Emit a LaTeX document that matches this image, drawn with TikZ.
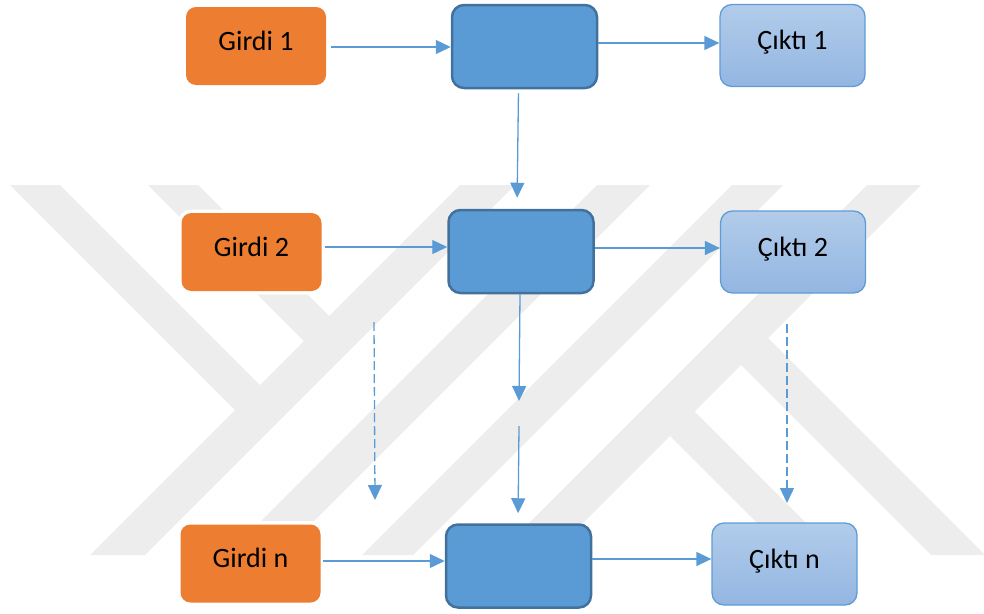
\documentclass[tikz,border=0pt]{standalone}
\usepackage{fontspec}
\setmainfont{Carlito}
\usetikzlibrary{arrows.meta}

\definecolor{inorange}{HTML}{ED7D31}
\definecolor{procblue}{HTML}{5B9BD5}
\definecolor{procedge}{HTML}{41719C}
\definecolor{outtop}{HTML}{B2CCEA}
\definecolor{outbot}{HTML}{93B6E2}
\definecolor{outedge}{HTML}{5F9CD6}
\definecolor{linkblue}{HTML}{5B9BD5}
\definecolor{wmgray}{RGB}{237,237,237}

\tikzset{
  boxtext/.style={font=\fontsize{28}{32}\selectfont, text height=20pt, text depth=12pt, inner sep=0pt},
  inbox/.style={boxtext, rectangle, rounded corners=10pt, fill=inorange,
    preaction={draw=white, line width=7pt},
    minimum width=140pt, minimum height=78pt},
  procbox/.style={rectangle, rounded corners=12pt, fill=procblue, draw=procedge,
    line width=2.5pt, minimum width=145pt, minimum height=83pt, inner sep=0pt},
  outbox/.style={boxtext, rectangle, rounded corners=12pt, top color=outtop,
    bottom color=outbot, draw=outedge, line width=1.3pt,
    minimum width=145pt, minimum height=82pt},
  arr/.style={draw=linkblue, line width=1.3pt,
    -{Triangle[length=15pt, width=14pt]}},
  darr/.style={arr, dash pattern=on 9pt off 4pt},
}

\begin{document}
\begin{tikzpicture}[x=1pt, y=-1pt]
\useasboundingbox (0,0) rectangle (984,613);

% background emblem: light diagonal bands
\fill[wmgray] (10,185) -- (60,185) -- (260,385) -- (235,410) -- cycle;
\fill[wmgray] (148,185) -- (198,185) -- (329,316) -- (304,341) -- cycle;
\fill[wmgray] (460,185) -- (515,185) -- (145,555) -- (90,555) -- cycle;
\fill[wmgray] (597,185) -- (650,185) -- (280,555) -- (227,555) -- cycle;
\fill[wmgray] (732,185) -- (783,185) -- (413,555) -- (362,555) -- cycle;
\fill[wmgray] (867,185) -- (921,185) -- (551,555) -- (497,555) -- cycle;
\fill[wmgray] (768,338) -- (741,365) -- (931,555) -- (984,555) -- (984,554) -- cycle;
\fill[wmgray] (694.5,411.5) -- (670,436) -- (789,555) -- (838,555) -- cycle;

% row 1
\node[inbox]   (g1) at (256,46)    {Girdi 1};
\node[procbox] (b1) at (524.5,46.5) {};
\node[outbox]  (c1) at (792.5,45.5) {Çıktı 1};

% row 2
\node[inbox]   (g2) at (251.5,252) {Girdi 2};
\node[procbox] (b2) at (521,251.5) {};
\node[outbox]  (c2) at (793,252)   {Çıktı 2};

% row n
\node[inbox]   (gn) at (250.5,563.5) {Girdi n};
\node[procbox] (bn) at (518.5,566)   {};
\node[outbox]  (cn) at (784.5,564)   {Çıktı n};

% free ends of the open connectors
\coordinate (m1) at (519,401);
\coordinate (m2) at (519,426);
\coordinate (dl1) at (374,322);
\coordinate (dl2) at (375,500);
\coordinate (dr1) at (787,324);
\coordinate (dr2) at (787,503);

% horizontal links
\draw[arr, shorten <=5pt] ([yshift=-1pt]g1.east) -- ([yshift=-1pt]g1.east -| b1.west);
\draw[arr] ([yshift=3.5pt]b1.east) -- ([yshift=3.5pt]b1.east -| c1.west);
\draw[arr, shorten <=3pt] ([yshift=5pt]g2.east) -- ([yshift=5pt]g2.east -| b2.west);
\draw[arr] ([yshift=3.5pt]b2.east) -- ([yshift=3.5pt]b2.east -| c2.west);
\draw[arr, shorten <=2pt] ([yshift=2.5pt]gn.east) -- ([yshift=2.5pt]gn.east -| bn.west);
\draw[arr] ([yshift=7pt]bn.east) -- ([yshift=7pt]bn.east -| cn.west);

% vertical links
\draw[arr, shorten <=4pt, shorten >=11pt] ([xshift=-6pt]b1.south) -- ([xshift=-4pt]b2.north);
\draw[arr] ([xshift=-1pt]b2.south) -- (m1);
\draw[arr, shorten >=10pt] (m2) -- ([xshift=-0.5pt]bn.north);
\draw[darr] (dl1) -- (dl2);
\draw[darr] (dr1) -- (dr2);
\end{tikzpicture}
\end{document}
